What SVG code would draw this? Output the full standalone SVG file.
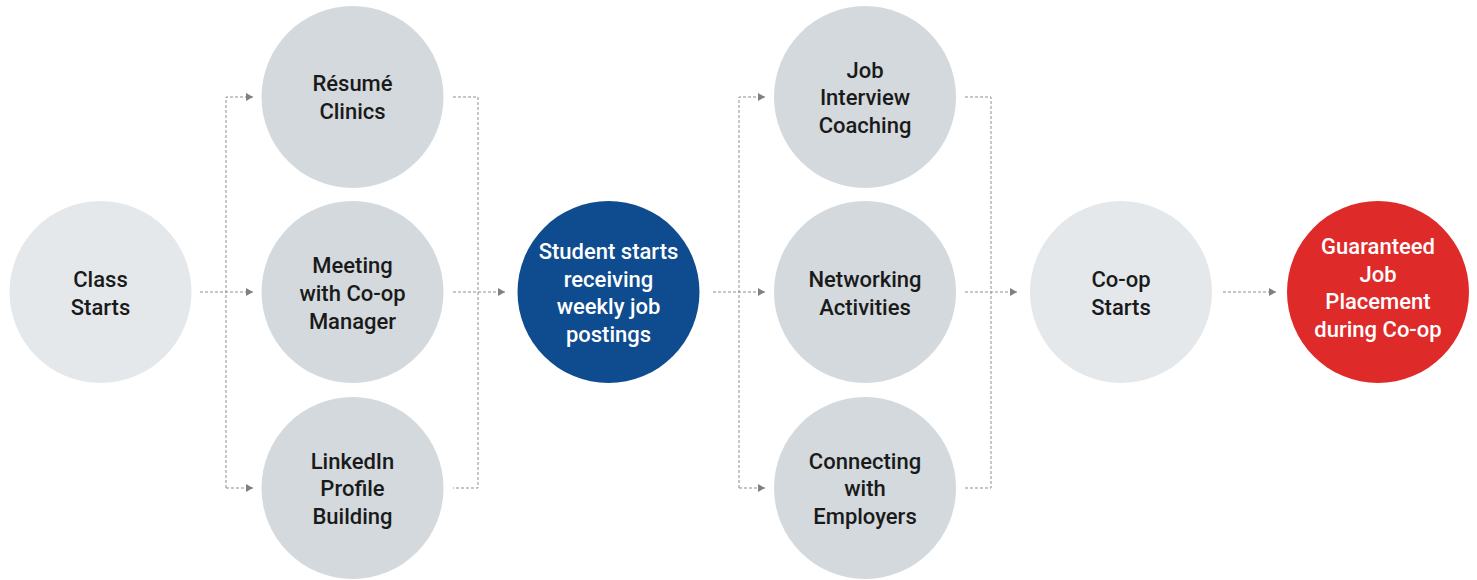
<svg xmlns="http://www.w3.org/2000/svg" width="1477" height="580" viewBox="0 0 1477 580">
<style>
.lt{fill:#e5e8eb}
.md{fill:#d3d9dd}
.bl{fill:#0f4c8f}
.rd{fill:#df2a2a}
text{font-family:Roboto,"Liberation Sans",sans-serif;font-weight:500;font-size:22px;text-anchor:middle}
.dk{fill:#1a1a1a}
.wh{fill:#ffffff}
.c{fill:none;stroke:#8f8f8f;stroke-width:1;stroke-dasharray:3 2}
</style>
<defs>
<marker id="ah" markerUnits="userSpaceOnUse" viewBox="0 0 7 8" refX="7" refY="4" markerWidth="7" markerHeight="8" orient="auto">
<path d="M0,0 L7,4 L0,8 z" fill="#808080"/>
</marker>
</defs>
<g id="connectors">
<path class="c" d="M200,292 H253" marker-end="url(#ah)"/>
<path class="c" d="M226,488 V97 H253" marker-end="url(#ah)"/>
<path class="c" d="M226,488 H253" marker-end="url(#ah)"/>
<path class="c" d="M453,97 H478 V488 H453"/>
<path class="c" d="M453,292 H505" marker-end="url(#ah)"/>
<path class="c" d="M713,292 H765" marker-end="url(#ah)"/>
<path class="c" d="M739,488 V97 H765" marker-end="url(#ah)"/>
<path class="c" d="M739,488 H765" marker-end="url(#ah)"/>
<path class="c" d="M965,97 H991 V488 H965"/>
<path class="c" d="M965,292 H1017" marker-end="url(#ah)"/>
<path class="c" d="M1223,292 H1276" marker-end="url(#ah)"/>
</g>
<g id="class-starts">
<circle class="lt" cx="100.5" cy="292" r="91"/>
<text class="dk" x="100.5" y="287">Class</text>
<text class="dk" x="100.5" y="314.5">Starts</text>
</g>
<g id="resume-clinics">
<circle class="md" cx="352.5" cy="97" r="91"/>
<text class="dk" x="352.5" y="91">Résumé</text>
<text class="dk" x="352.5" y="119">Clinics</text>
</g>
<g id="meeting-manager">
<circle class="md" cx="352.5" cy="292" r="91"/>
<text class="dk" x="352.5" y="273">Meeting</text>
<text class="dk" x="352.5" y="301">with Co-op</text>
<text class="dk" x="352.5" y="328.5">Manager</text>
</g>
<g id="linkedin-profile">
<circle class="md" cx="352.5" cy="488" r="91"/>
<text class="dk" x="352.5" y="469">LinkedIn</text>
<text class="dk" x="352.5" y="496">Profile</text>
<text class="dk" x="352.5" y="524">Building</text>
</g>
<g id="student-postings">
<circle class="bl" cx="608.5" cy="292" r="91"/>
<text class="wh" x="608.5" y="259">Student starts</text>
<text class="wh" x="608.5" y="286.5">receiving</text>
<text class="wh" x="608.5" y="314">weekly job</text>
<text class="wh" x="608.5" y="342">postings</text>
</g>
<g id="interview-coaching">
<circle class="md" cx="865" cy="97" r="91"/>
<text class="dk" x="865" y="78">Job</text>
<text class="dk" x="865" y="105">Interview</text>
<text class="dk" x="865" y="133">Coaching</text>
</g>
<g id="networking">
<circle class="md" cx="865" cy="292" r="91"/>
<text class="dk" x="865" y="287">Networking</text>
<text class="dk" x="865" y="314.5">Activities</text>
</g>
<g id="connecting-employers">
<circle class="md" cx="865" cy="488" r="91"/>
<text class="dk" x="865" y="469">Connecting</text>
<text class="dk" x="865" y="496">with</text>
<text class="dk" x="865" y="524">Employers</text>
</g>
<g id="coop-starts">
<circle class="lt" cx="1121" cy="292" r="91"/>
<text class="dk" x="1121" y="287">Co-op</text>
<text class="dk" x="1121" y="314.5">Starts</text>
</g>
<g id="guaranteed-placement">
<circle class="rd" cx="1378" cy="292" r="91"/>
<text class="wh" x="1378" y="254">Guaranteed</text>
<text class="wh" x="1378" y="281.5">Job</text>
<text class="wh" x="1378" y="309">Placement</text>
<text class="wh" x="1378" y="337">during Co-op</text>
</g>
</svg>
